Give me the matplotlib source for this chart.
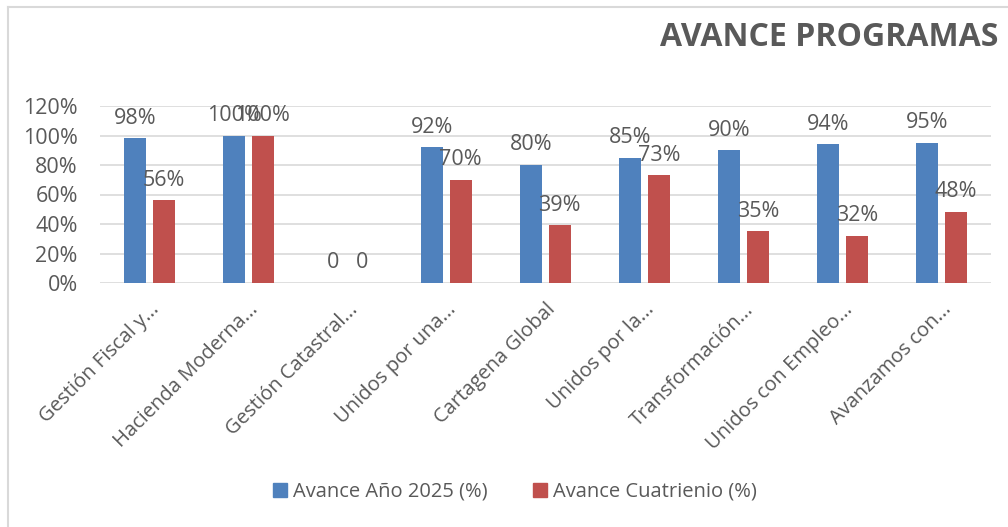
import matplotlib.pyplot as plt
import numpy as np
from matplotlib.lines import Line2D

# data
programas = ['Gestión Fiscal y...', 'Hacienda Moderna...', 'Gestión Catastral...',
             'Unidos por una...', 'Cartagena Global', 'Unidos por la...',
             'Transformación...', 'Unidos con Empleo...', 'Avanzamos con...']
avance_2025 = [98, 100, 0, 92, 80, 85, 90, 94, 95]
avance_cuatrienio = [56, 100, 0, 70, 39, 73, 35, 32, 48]
labels_2025 = ['98%', '100%', '0', '92%', '80%', '85%', '90%', '94%', '95%']
labels_cuatrienio = ['56%', '100%', '0', '70%', '39%', '73%', '35%', '32%', '48%']

blue = '#4f81bd'
red = '#c0504d'
txt = '#595959'
plt.rcParams['font.family'] = ['Open Sans', 'DejaVu Sans']

fig = plt.figure(figsize=(10.08, 5.27), dpi=100)
ax = fig.add_axes([100 / 1008, 1 - 283 / 527, 891 / 1008, 177 / 527])

x = np.arange(len(programas))
w = 0.222
off = 0.144
ax.bar(x - off, avance_2025, w, color=blue, zorder=3)
ax.bar(x + off, avance_cuatrienio, w, color=red, zorder=3)

for i in range(len(programas)):
    ax.annotate(labels_2025[i], (x[i] - off, avance_2025[i]), xytext=(0, 7),
                textcoords='offset points', ha='center', va='bottom',
                fontsize=15.5, color=txt)
    ax.annotate(labels_cuatrienio[i], (x[i] + off, avance_cuatrienio[i]), xytext=(0, 7),
                textcoords='offset points', ha='center', va='bottom',
                fontsize=15.5, color=txt)

ax.set_xlim(-0.5, len(programas) - 0.5)
ax.set_ylim(0, 120)
ax.set_yticks(range(0, 121, 20))
ax.set_yticklabels([f'{v}%' for v in range(0, 121, 20)], fontsize=15.5, color=txt)
ax.set_xticks(x)
ax.set_xticklabels(programas, rotation=45, ha='right', rotation_mode='anchor',
                   fontsize=14.5, color=txt)
ax.tick_params(axis='both', length=0)
ax.tick_params(axis='x', pad=12)
ax.tick_params(axis='y', pad=16)
ax.yaxis.grid(True, color='#d9d9d9', linewidth=1.2, zorder=0)
for s in ax.spines.values():
    s.set_visible(False)

fig.text(998 / 1008, 1 - 38 / 527, 'AVANCE PROGRAMAS', ha='right', va='center',
         fontsize=23, fontweight='bold', color=txt)

# legend
handles = [Line2D([], [], marker='s', linestyle='', color=blue, markersize=10),
           Line2D([], [], marker='s', linestyle='', color=red, markersize=10)]
fig.legend(handles, ['Avance Año 2025 (%)', 'Avance Cuatrienio (%)'],
           loc='center', bbox_to_anchor=(512 / 1008, 1 - 492 / 527), ncol=2,
           frameon=False, fontsize=14.5, labelcolor=txt, handletextpad=0.05,
           handlelength=1.2, columnspacing=2.0)

# chart border
fig.add_artist(Line2D([8 / 1008, 8 / 1008], [0, 1 - 7 / 527], color='#d9d9d9', lw=1.5))
fig.add_artist(Line2D([8 / 1008, 1], [1 - 7 / 527, 1 - 7 / 527], color='#d9d9d9', lw=1.5))

fig.savefig('out.png', dpi=100, facecolor='white')
